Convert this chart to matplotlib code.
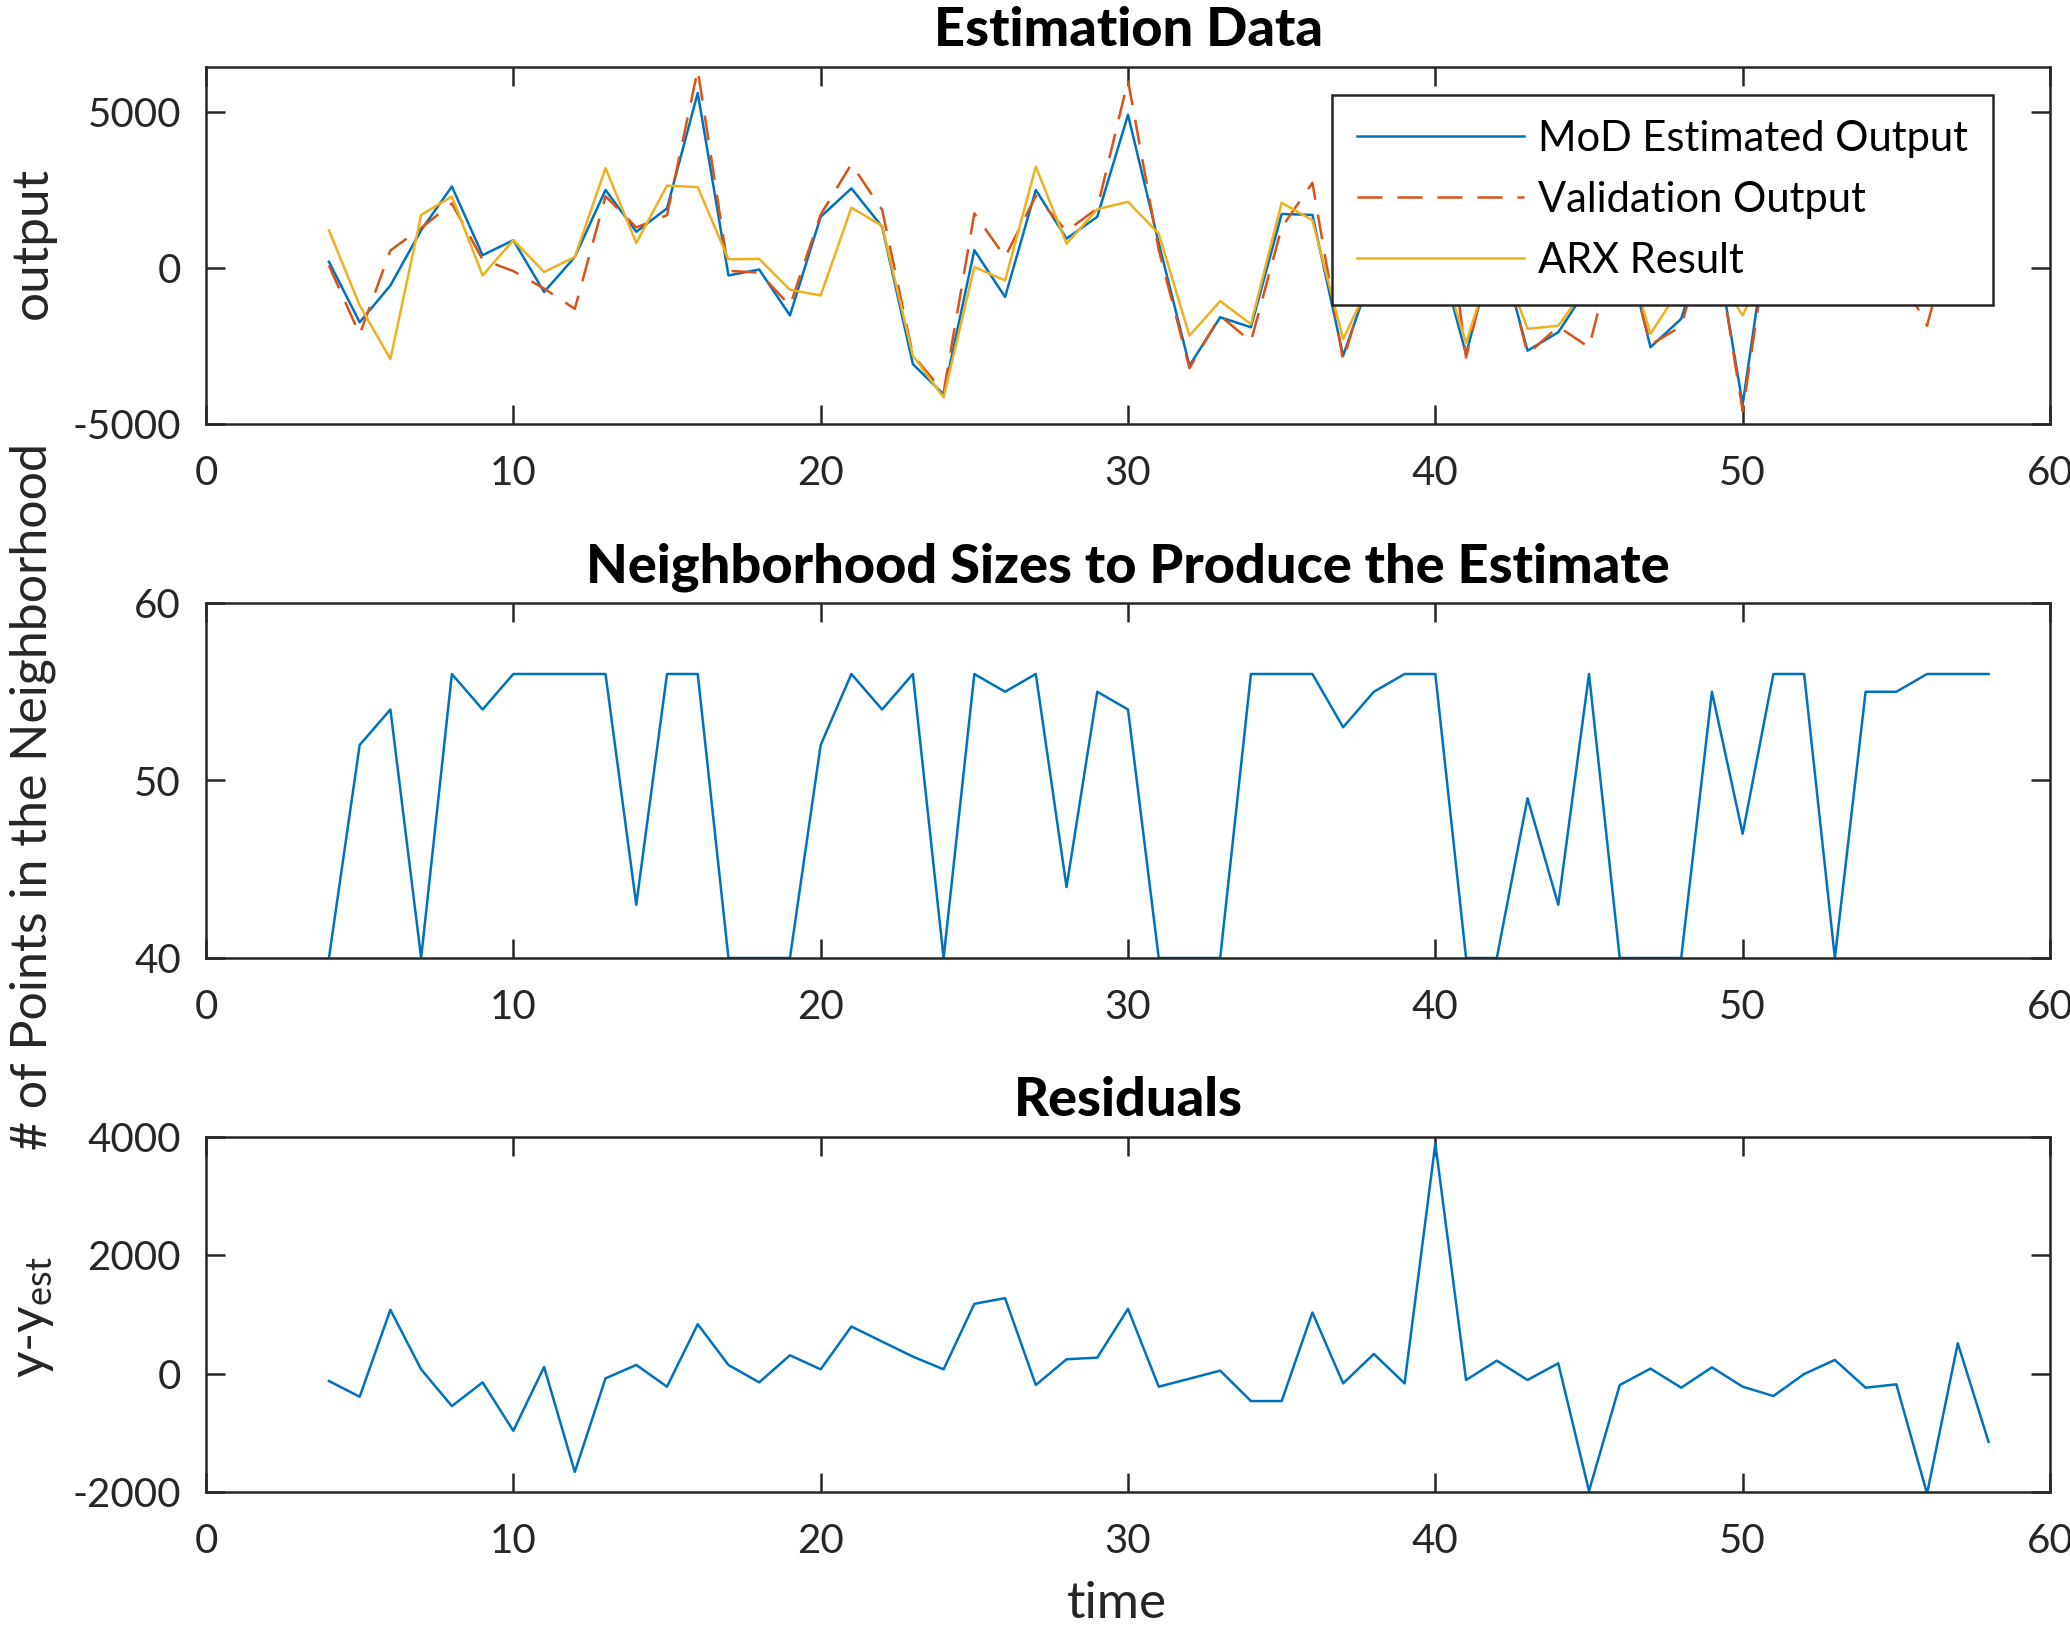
import matplotlib
matplotlib.use("Agg")
import matplotlib.pyplot as plt

plt.rcParams['font.family'] = ['Lato', 'DejaVu Sans']
plt.rcParams['mathtext.fontset'] = 'custom'
plt.rcParams['mathtext.rm'] = 'Lato'
plt.rcParams['mathtext.it'] = 'Lato'
plt.rcParams['axes.unicode_minus'] = False

# time samples 4..58
t = list(range(4, 59))

mod_est = [200, -1740, -560, 1210, 2610, 410, 890, -770, 350, 2500,
           1160, 1910, 5610, -240, -50, -1520, 1640, 2550, 1320, -3080,
           -4050, 570, -930, 2500, 940, 1640, 4910, 800, -3130, -1580,
           -1900, 1730, 1700, -2810, 0, 1500, 900, -2760, 1000, -2650,
           -2060, -560, 1500, -2540, -1630, 1500, -4370, 2400, 600, -1040,
           600, 180, 180, 1370, 500]

validation = [80, -2130, 560, 1280, 2070, 270, -100, -660, -1310, 2300,
              1300, 1690, 6350, -90, -150, -1210, 1710, 3330, 1860, -2790,
              -3980, 1750, 350, 2310, 1180, 1910, 6010, 580, -3210, -1530,
              -2360, 1300, 2730, -2970, 330, 1340, 4790, -2870, 1220, -2760,
              -1880, -2540, 1310, -2460, -1870, 1610, -4590, 2020, 590, -810,
              360, 0, -1850, 1880, -650]

arx = [1210, -1200, -2920, 1700, 2290, -240, 890, -130, 350, 3200,
       800, 2640, 2590, 280, 290, -700, -880, 1930, 1350, -2810,
       -4150, 30, -400, 3250, 780, 1880, 2120, 1100, -2170, -1060,
       -1800, 2090, 1530, -2280, -200, 1200, 800, -2400, 700, -1950,
       -1850, -500, 1200, -2110, -600, 0, -1520, 600, 300, -300,
       400, 200, 100, 900, 300]

nbhd_size = [40, 52, 54, 40, 56, 54, 56, 56, 56, 56,
             43, 56, 56, 40, 40, 40, 52, 56, 54, 56,
             40, 56, 55, 56, 44, 55, 54, 40, 40, 40,
             56, 56, 56, 53, 55, 56, 56, 40, 40, 49,
             43, 56, 40, 40, 40, 55, 47, 56, 56, 40,
             55, 55, 56, 56, 56]

residual = [-124, -390, 1080, 73, -548, -147, -966, 113, -1661, -79,
            147, -220, 836, 147, -147, 311, 73, 797, 542, 288,
            73, 1180, 1277, -192, 243, 271, 1096, -220, -85, 51,
            -463, -463, 1034, -164, 333, -164, 3890, -107, 220, -107,
            175, -1983, -192, 85, -237, 107, -220, -378, -6, 232,
            -237, -180, -2028, 514, -1152]

blue = '#0072BD'
red = '#D95319'
yellow = '#EDB120'
axcol = '#262626'

W, H = 2070, 1626
fig = plt.figure(figsize=(W / 100, H / 100), dpi=100)


def add_axes(top, bottom):
    left, right = 206, 2050
    ax = fig.add_axes([left / W, 1 - bottom / H, (right - left) / W, (bottom - top) / H])
    for s in ax.spines.values():
        s.set_color(axcol)
        s.set_linewidth(1.8)
    ax.tick_params(direction='in', top=True, right=True, length=14, width=1.8,
                   colors=axcol, labelsize=29, pad=18)
    ax.tick_params(axis='x', pad=22)
    ax.set_xlim(0, 60)
    ax.set_xticks([0, 10, 20, 30, 40, 50, 60])
    return ax


title_kw = dict(fontsize=39, fontweight='black', pad=15, color='black')

ax1 = add_axes(67, 424)
ax1.plot(t, mod_est, color=blue, lw=1.8, label='MoD Estimated Output')
ax1.plot(t, validation, color=red, lw=1.8, dashes=(10, 6), label='Validation Output')
ax1.plot(t, arx, color=yellow, lw=1.8, label='ARX Result')
ax1.set_ylim(-5000, 6440)
ax1.set_yticks([-5000, 0, 5000])
ax1.set_title('Estimation Data', **title_kw)
leg = ax1.legend(loc='upper left', bbox_to_anchor=(1332 / W, 1 - 95 / H),
                 bbox_transform=fig.transFigure, fontsize=30, handlelength=4.0,
                 handletextpad=0.35, borderaxespad=0, borderpad=0.6,
                 labelspacing=0.55, fancybox=False, framealpha=1)
leg.get_frame().set_edgecolor(axcol)
leg.get_frame().set_linewidth(1.8)

ax2 = add_axes(603, 958)
ax2.plot(t, nbhd_size, color=blue, lw=1.8)
ax2.set_ylim(40, 60)
ax2.set_yticks([40, 50, 60])
ax2.set_title('Neighborhood Sizes to Produce the Estimate', **title_kw)

ax3 = add_axes(1137, 1492)
ax3.plot(t, residual, color=blue, lw=1.8)
ax3.set_ylim(-2000, 4000)
ax3.set_yticks([-2000, 0, 2000, 4000])
ax3.set_title('Residuals', **title_kw)

fig.text(33 / W, 1 - 243 / H, 'output', rotation=90, ha='center', va='center',
         fontsize=37, color=axcol)
fig.text(33 / W, 1 - 797 / H, '# of Points in the Neighborhood', rotation=90,
         ha='center', va='center', fontsize=36, color=axcol)
fig.text(33 / W, 1 - 1317 / H, r'y-y$_{\mathrm{est}}$', rotation=90,
         ha='center', va='center', fontsize=37, color=axcol)
fig.text(1117 / W, 1 - 1604 / H, 'time', ha='center', va='center',
         fontsize=37, color=axcol)

fig.savefig('out.png', dpi=100)
